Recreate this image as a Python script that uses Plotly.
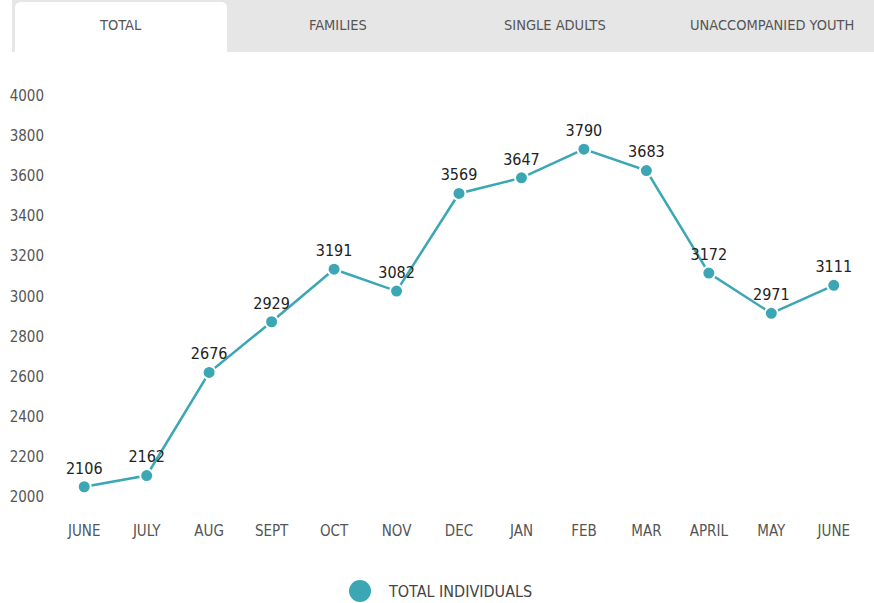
import plotly.graph_objects as go

months = ["JUNE", "JULY", "AUG", "SEPT", "OCT", "NOV", "DEC", "JAN", "FEB", "MAR", "APRIL", "MAY", "JUNE"]
values = [2106, 2162, 2676, 2929, 3191, 3082, 3569, 3647, 3790, 3683, 3172, 2971, 3111]
y_tick_labels = ["2000", "2200", "2400", "2600", "2800", "3000", "3200", "3400", "3600", "3800", "4000"]
tabs = ["TOTAL", "FAMILIES", "SINGLE ADULTS", "UNACCOMPANIED YOUTH"]
legend_name = "TOTAL INDIVIDUALS"

# the original chart's axis labels sit ~56 units above their nominal values
label_offset = 56

FONT = "Liberation Sans Narrow, DejaVu Sans Condensed, Roboto, sans-serif"
LINE = "#3ba7b4"
W, H = 874, 603
L, R, T, B = 53, 9, 85, 93
PW, PH = W - L - R, H - T - B

def px(x):
    return (x - L) / PW

def py(y):
    return 1 - (y - T) / PH

x_idx = list(range(len(months)))

fig = go.Figure()
fig.add_trace(go.Scatter(
    x=x_idx, y=values, mode="lines+markers+text",
    text=[str(v) for v in values], textposition="top center",
    textfont=dict(family=FONT, size=16, color="#222"),
    line=dict(color=LINE, width=2.5),
    marker=dict(size=13, color=LINE, line=dict(color="white", width=2)),
    showlegend=False, cliponaxis=False, hoverinfo="skip",
))

shapes = []
# tab bar background
shapes.append(dict(type="rect", xref="paper", yref="paper", x0=px(12), x1=px(874), y0=py(52), y1=py(0),
                   fillcolor="#e6e6e6", line=dict(width=0), layer="below"))
# active tab
x0, x1, y0, y1 = px(15), px(227), py(52), py(2)
rx, ry = 6 / PW, 6 / PH
path = (f"M {x0},{y0} L {x0},{y1 - ry} Q {x0},{y1} {x0 + rx},{y1} "
        f"L {x1 - rx},{y1} Q {x1},{y1} {x1},{y1 - ry} L {x1},{y0} Z")
shapes.append(dict(type="path", xref="paper", yref="paper", path=path,
                   fillcolor="white", line=dict(width=0), layer="below"))
# legend marker
shapes.append(dict(type="circle", xref="paper", yref="paper",
                   x0=px(349), x1=px(371), y0=py(602), y1=py(580),
                   fillcolor=LINE, line=dict(width=0)))

annotations = []
tab_centers = [120, 338, 555, 772]
for t, cx in zip(tabs, tab_centers):
    annotations.append(dict(text=t, xref="paper", yref="paper", x=px(cx), y=py(25),
                            showarrow=False, xanchor="center", yanchor="middle",
                            font=dict(family=FONT, size=14.5, color="#555")))
annotations.append(dict(text=legend_name, xref="paper", yref="paper", x=px(386), y=py(591),
                        showarrow=False, xanchor="left", yanchor="middle",
                        font=dict(family=FONT, size=16, color="#444")))

fig.update_layout(
    width=W, height=H,
    margin=dict(l=L, r=R, t=T, b=B),
    paper_bgcolor="white", plot_bgcolor="white",
    shapes=shapes, annotations=annotations,
    xaxis=dict(range=[-0.5, len(months) - 0.5], tickvals=x_idx, ticktext=months,
               showgrid=False, zeroline=False, showline=False, ticks="",
               tickfont=dict(family=FONT, size=15, color="#555"), ticklabelstandoff=10),
    yaxis=dict(range=[1990, 4110],
               tickvals=[int(s) + label_offset for s in y_tick_labels], ticktext=y_tick_labels,
               showgrid=False, zeroline=False, showline=False, ticks="",
               tickfont=dict(family=FONT, size=15, color="#555"), ticklabelstandoff=8),
)

fig.write_html("out.html", config={"displayModeBar": False},
               post_script="document.body.style.margin='0';document.body.style.overflow='hidden';")
